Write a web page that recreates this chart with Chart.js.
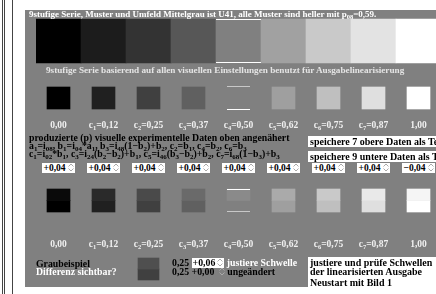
<!DOCTYPE html>
<html><head><meta charset="utf-8">
<script src="https://cdn.jsdelivr.net/npm/chart.js@4"></script>
<style>
html,body{margin:0;padding:0;width:436px;height:294px;overflow:hidden;background:#fff}
#wrap{position:relative;width:436px;height:294px;overflow:hidden}
canvas{position:absolute;left:0;top:0}
.t{position:absolute;font-family:"Liberation Serif","Times New Roman",serif;font-weight:bold;font-size:9.5px;line-height:9px;white-space:nowrap}
.t sub{font-size:6.5px;vertical-align:-2px;line-height:0}
.row{position:absolute;left:36px;display:flex}
.cell{width:45px;text-align:center}
.lab{color:#f0f0f0}
.blk{color:#000}
.big{font-size:9.8px}
.big sub{font-size:7px}
.wbox{background:#fff;color:#000;font-size:10px}
.spin{display:inline-block;background:#fff;color:#000;padding:0 1px;height:10px;line-height:10px}
.spin svg, .sv{margin-left:2px;vertical-align:-1px}
</style></head>
<body><div id="wrap"><canvas id="c" width="441" height="294"></canvas></div>
<script>
// ---- data ----
const stepNames  = ['', 'c1', 'c2', 'c3', 'c4', 'c5', 'c6', 'c7', ''];
const stepValues = [0.00, 0.12, 0.25, 0.37, 0.50, 0.62, 0.75, 0.87, 1.00];
const stripGray  = [0.00, 0.11, 0.20, 0.34, 0.50, 0.63, 0.79, 0.89, 1.00];
const squareGray = [0.000, 0.125, 0.250, 0.375, 0.500, 0.625, 0.750, 0.875, 1.000];
const deltaLabels = ['+0,04','+0,04','+0,04','+0,04','+0,04','+0,04','+0,04','+0,04','\u22120,04'];
const lowerTopGray = [0.04, 0.165, 0.29, 0.415, 0.54, 0.665, 0.79, 0.915, 0.96];
const lowerBottomGray = [0.000, 0.125, 0.250, 0.375, 0.500, 0.625, 0.750, 0.875, 1.000];
const sampleIndex = 2;
const sampleTopGray = 0.31;
const sampleBottomGray = 0.25;

// ---- layout (pixels) ----
const L = {
  strip:[19,63], sq1:[87,109], sq2a:[189,200.5], sq2b:[200.5,212], samp:[258,269], samp2:[269,280]
};
const gray = g => { const v = Math.round(g*255); return `rgb(${v},${v},${v})`; };
const fmt = v => v.toFixed(2).replace('.', ',');
const labelHtml = i => stepNames[i] ? `c<sub>${stepNames[i].slice(1)}</sub>=${fmt(stepValues[i])}` : fmt(stepValues[i]);
const spinIcon = '<svg class="sv" width="6" height="9" viewBox="0 0 6 9"><path d="M0.5 3.5 L3 1 L5.5 3.5 M0.5 5.5 L3 8 L5.5 5.5" fill="none" stroke="#aaa" stroke-width="1"/></svg>';

const bg = {
  id:'bg',
  beforeDraw(chart){
    const c = chart.ctx;
    c.save();
    c.fillStyle = '#fff'; c.fillRect(0,0,chart.width,chart.height);
    c.fillStyle = '#808080'; c.fillRect(25,10,chart.width-25,277);
    c.strokeStyle = '#444'; c.lineWidth = 1;
    [2.5,4.5,12.5].forEach(x=>{c.beginPath();c.moveTo(x,0);c.lineTo(x,294);c.stroke();});
    c.restore();
  },
  afterDatasetsDraw(chart){
    const c = chart.ctx, x = chart.scales.x, y = chart.scales.y;
    const cx = x.getPixelForValue(4);
    const line = (w, yy, col) => { c.fillStyle = col; c.fillRect(Math.round(cx - w/2), Math.round(y.getPixelForValue(yy)), w, 1); };
    c.save();
    line(45, L.strip[0], '#fff'); line(45, L.strip[1]-1, '#fff');
    line(23, L.sq1[0]-1, '#c8c8c8'); line(23, L.sq1[1], '#fff');
    line(23, L.sq2a[0], '#fff'); line(23, L.sq2b[1]-1, '#c8c8c8');
    c.restore();
  }
};

const common = {grouped:false, borderWidth:0, borderSkipped:false};
new Chart(document.getElementById('c'), {
  type:'bar',
  data:{
    labels: stepValues.map(fmt),
    datasets:[
      {...common, label:'strip', data: stripGray.map(()=>L.strip), backgroundColor: stripGray.map(gray), barThickness:45},
      {...common, label:'row1', data: squareGray.map(()=>L.sq1), backgroundColor: squareGray.map(gray), barThickness:23},
      {...common, label:'row2 top', data: lowerTopGray.map(()=>L.sq2a), backgroundColor: lowerTopGray.map(gray), barThickness:23},
      {...common, label:'row2 bottom', data: lowerBottomGray.map(()=>L.sq2b), backgroundColor: lowerBottomGray.map(gray), barThickness:23},
      {...common, label:'sample top', data: stepValues.map((v,i)=> i===sampleIndex ? L.samp : null), backgroundColor: gray(sampleTopGray), barThickness:21},
      {...common, label:'sample bottom', data: stepValues.map((v,i)=> i===sampleIndex ? L.samp2 : null), backgroundColor: gray(sampleBottomGray), barThickness:21}
    ]
  },
  options:{
    responsive:false, animation:false, devicePixelRatio:1,
    layout:{padding:{left:36,right:0,top:0,bottom:0}},
    scales:{x:{display:false}, y:{display:false, min:0, max:294, reverse:true}},
    plugins:{legend:{display:false}, tooltip:{enabled:false}}
  },
  plugins:[bg]
});

// ---- text ----
const wrap = document.getElementById('wrap');
function add(html, cls, left, top, extra){
  const d = document.createElement('div');
  d.className = 't ' + cls; d.innerHTML = html;
  d.style.left = left + 'px'; d.style.top = top + 'px';
  if (extra) Object.assign(d.style, extra);
  wrap.appendChild(d); return d;
}
function row(top, fn, cls){
  const r = document.createElement('div'); r.className = 't row ' + (cls||''); r.style.top = top + 'px';
  stepValues.forEach((v,i)=>{ const c = document.createElement('div'); c.className='cell'; c.innerHTML = fn(i); r.appendChild(c); });
  wrap.appendChild(r);
}
add('9stufige Serie, Muster und Umfeld Mittelgrau ist U41, alle Muster sind heller mit p<sub>08</sub>=0,59.', '', 29, 10, {color:'#fff', fontSize:'9px'});
add('9stufige Serie basierend auf allen visuellen Einstellungen benutzt f\u00fcr Ausgabelinearisierung', '', 46, 66, {color:'#e4e4e4', fontSize:'9.2px'});
row(121, labelHtml, 'lab');
add('produzierte (p) visuelle experimentelle Daten oben angen\u00e4hert', 'blk big', 29, 133);
add('a<sub>1</sub>=i<sub>08</sub>, b<sub>1</sub>=i<sub>04</sub>*a<sub>1</sub>, b<sub>3</sub>=i<sub>48</sub>(1\u2212b<sub>2</sub>)+b<sub>2</sub>, c<sub>2</sub>=b<sub>1</sub>, c<sub>4</sub>=b<sub>2</sub>, c<sub>6</sub>=b<sub>3</sub>', 'blk big', 29, 141);
add('c<sub>1</sub>=i<sub>02</sub>*b<sub>1</sub>, c<sub>3</sub>=i<sub>24</sub>(b<sub>2</sub>\u2212b<sub>2</sub>)+b<sub>1</sub>, c<sub>5</sub>=i<sub>46</sub>(b<sub>3</sub>\u2212b<sub>2</sub>)+b<sub>2</sub>, c<sub>7</sub>=i<sub>68</sub>(1\u2212b<sub>3</sub>)+b<sub>3</sub>', 'blk big', 29, 149);
add('speichere 7 obere Daten als Test', 'wbox', 308, 136, {padding:'1px 2px', width:'140px'});
add('speichere 9 untere Daten als Test', 'wbox', 308, 151, {padding:'1px 2px', width:'140px'});
row(163, i => `<span class="spin">${deltaLabels[i]}${spinIcon}</span>`, '');
row(240, labelHtml, 'lab');
add('Graubeispiel', 'blk big', 36, 259);
add('Differenz sichtbar?', 'big', 36, 267, {color:'#fff'});
add(`0,25 <span class="spin">+0,06${spinIcon}</span> <span style="color:#fff">justiere Schwelle</span>`, 'blk big', 172, 258);
add(`0,25 +0,00 ${spinIcon} unge\u00e4ndert`, 'blk big', 172, 267);
add('justiere und pr\u00fcfe Schwellen<br>der linearisierten Ausgabe', 'wbox', 308, 257, {padding:'1px 2px', width:'140px'});
add('Neustart mit Bild 1', 'wbox', 308, 277, {padding:'1px 2px', width:'140px'});
</script></body></html>
